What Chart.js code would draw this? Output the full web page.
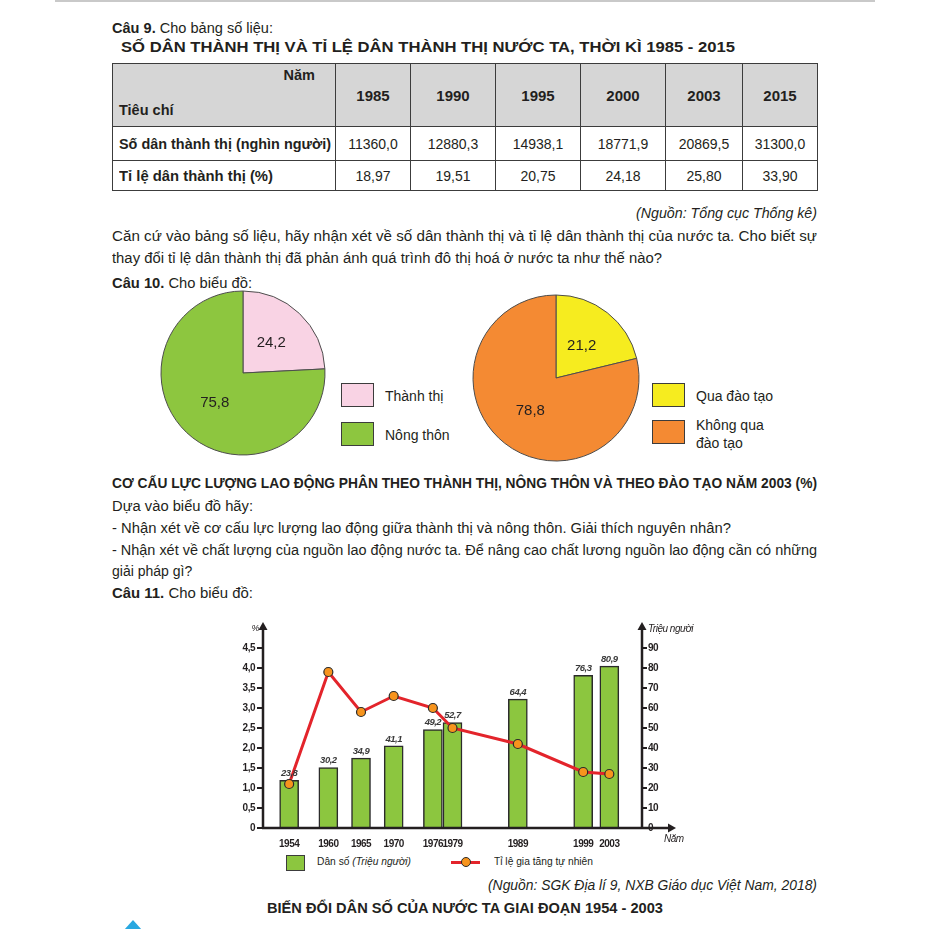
<!DOCTYPE html>
<html lang="vi">
<head>
<meta charset="utf-8">
<script src="https://cdn.jsdelivr.net/npm/chart.js@4.4.0/dist/chart.umd.min.js"></script>
<style>
body { margin: 0; background: #fff; }
#trang { position: relative; width: 929px; height: 929px; overflow: hidden; background: #fff;
  font-family: 'Liberation Sans', Arial, sans-serif; color: #231f20; }
.t { position: absolute; white-space: nowrap; font-size: 14px; line-height: 20px; transform-origin: left center; }
.b { font-weight: bold; }
.i { font-style: italic; }
#bang { position: absolute; left: 112px; top: 63px; width: 705px; border-collapse: collapse; table-layout: fixed; font-size: 14px; }
#bang td { border: 1.5px solid #3c3c3c; text-align: center; padding: 0; }
#bang tr.dau td { background: #d6d6d6; font-weight: bold; font-size: 15px; height: 62px; }
#bang tr.r1 td { height: 33px; }
#bang tr.r2 td { height: 29px; }
#bang td.nhan { text-align: left; padding-left: 6px; font-weight: bold; font-size: 14.5px; }
#bang td.cheo { position: relative;
  background: linear-gradient(to top right, #d6d6d6 calc(50% - 0.9px), #3c3c3c 50%, #d6d6d6 calc(50% + 0.9px)); }
#bang td.cheo span { position: absolute; font-size: 14.5px; }
.hop { position: absolute; border: 1px solid #3c3c3c; }
canvas { position: absolute; }
</style>
</head>
<body>
<div id="trang">
  <div style="position:absolute;left:55px;top:0;width:820px;height:2px;background:#c9c9c9"></div>

  <div class="t" style="left:112px;top:18px" data-w="161"><b>Câu 9.</b> Cho bảng số liệu:</div>
  <div class="t b" style="left:121px;top:37px" data-w="614">SỐ DÂN THÀNH THỊ VÀ TỈ LỆ DÂN THÀNH THỊ NƯỚC TA, THỜI KÌ 1985 - 2015</div>
  <table id="bang"></table>
  <div class="t i" style="left:636px;top:203px" data-w="181">(Nguồn: Tổng cục Thống kê)</div>
  <div class="t" style="left:112px;top:226px" data-w="705">Căn cứ vào bảng số liệu, hãy nhận xét về số dân thành thị và tỉ lệ dân thành thị của nước ta. Cho biết sự</div>
  <div class="t" style="left:112px;top:248px" data-w="550">thay đổi tỉ lệ dân thành thị đã phản ánh quá trình đô thị hoá ở nước ta như thế nào?</div>
  <div class="t" style="left:112px;top:273px" data-w="140"><b>Câu 10.</b> Cho biểu đồ:</div>

  <canvas id="tron1" width="180" height="180" style="left:153px;top:283px"></canvas>
  <canvas id="tron2" width="180" height="180" style="left:466px;top:288px"></canvas>
  <div id="chuGiai1"></div>
  <div id="chuGiai2"></div>

  <div class="t b" style="left:112px;top:473px" data-w="705">CƠ CẤU LỰC LƯỢNG LAO ĐỘNG PHÂN THEO THÀNH THỊ, NÔNG THÔN VÀ THEO ĐÀO TẠO NĂM 2003 (%)</div>
  <div class="t" style="left:112px;top:496px" data-w="141">Dựa vào biểu đồ hãy:</div>
  <div class="t" style="left:112px;top:518px" data-w="619">- Nhận xét về cơ cấu lực lượng lao động giữa thành thị và nông thôn. Giải thích nguyên nhân?</div>
  <div class="t" style="left:112px;top:540px" data-w="705">- Nhận xét về chất lượng của nguồn lao động nước ta. Để nâng cao chất lương nguồn lao động cần có những</div>
  <div class="t" style="left:112px;top:561px">giải pháp gì?</div>
  <div class="t" style="left:112px;top:583px" data-w="141"><b>Câu 11.</b> Cho biểu đồ:</div>

  <canvas id="ketHop" width="520" height="240" style="left:200px;top:610px"></canvas>

  <div class="hop" style="left:286px;top:855px;width:17px;height:14px;background:#8cc63f"></div>
  <div class="t" style="left:317px;top:852px;font-size:10px" data-w="94">Dân số <i>(Triệu người)</i></div>
  <div style="position:absolute;left:451px;top:861px;width:29px;height:3px;background:#e3242b"></div>
  <div style="position:absolute;left:461px;top:857px;width:8px;height:8px;border-radius:50%;background:#f7941d;border:1.2px solid #2b2b2b"></div>
  <div class="t" style="left:494px;top:852px;font-size:10px" data-w="99">Tỉ lệ gia tăng tự nhiên</div>

  <div class="t i" style="left:488px;top:875px" data-w="329">(Nguồn: SGK Địa lí 9, NXB Giáo dục Việt Nam, 2018)</div>
  <div class="t b" style="left:267px;top:898px" data-w="396">BIẾN ĐỔI DÂN SỐ CỦA NƯỚC TA GIAI ĐOẠN 1954 - 2003</div>

  <div style="position:absolute;left:124px;top:920px;width:0;height:0;border-left:9px solid transparent;border-right:9px solid transparent;border-bottom:10px solid #29a8e0"></div>
</div>

<script>
// Số liệu bảng (Câu 9)
const namBang = [1985, 1990, 1995, 2000, 2003, 2015];
const soDanThanhThi = [11360.0, 12880.3, 14938.1, 18771.9, 20869.5, 31300.0];
const tiLeDanThanhThi = [18.97, 19.51, 20.75, 24.18, 25.80, 33.90];

// Biểu đồ tròn (Câu 10)
const nhomThanhThi = ['Thành thị', 'Nông thôn'];
const coCauThanhThi = [24.2, 75.8];
const nhomDaoTao = ['Qua đào tạo', 'Không qua đào tạo'];
const coCauDaoTao = [21.2, 78.8];

// Biểu đồ kết hợp (Câu 11)
const namDanSo = [1954, 1960, 1965, 1970, 1976, 1979, 1989, 1999, 2003];
const danSo = [23.8, 30.2, 34.9, 41.1, 49.2, 52.7, 64.4, 76.3, 80.9];
const tiLeGiaTang = [1.1, 3.9, 2.9, 3.3, 3.0, 2.5, 2.1, 1.4, 1.35];
const mocTiLe = [0, 0.5, 1.0, 1.5, 2.0, 2.5, 3.0, 3.5, 4.0, 4.5];
const mocDanSo = [0, 10, 20, 30, 40, 50, 60, 70, 80, 90];

const mauChu = '#231f20';
const phongChu = "'Liberation Sans', Arial, sans-serif";
const phay = (v, d) => v.toFixed(d).replace('.', ',');

// Bảng số liệu
let html = '<colgroup><col style="width:223px"><col style="width:75px"><col style="width:85px"><col style="width:85px"><col style="width:85px"><col style="width:77px"><col style="width:75px"></colgroup>';
html += '<tr class="dau"><td class="cheo"><span style="right:20px;top:3px">Năm</span><span style="left:6px;bottom:8px">Tiêu chí</span></td>';
namBang.forEach(n => { html += '<td>' + n + '</td>'; });
html += '</tr><tr class="r1"><td class="nhan"><span style="display:inline-block;transform-origin:left center" data-w="212">Số dân thành thị (nghìn người)</span></td>';
soDanThanhThi.forEach(v => { html += '<td>' + phay(v, 1) + '</td>'; });
html += '</tr><tr class="r2"><td class="nhan"><span style="display:inline-block;transform-origin:left center" data-w="154">Tỉ lệ dân thành thị (%)</span></td>';
tiLeDanThanhThi.forEach(v => { html += '<td>' + phay(v, 2) + '</td>'; });
html += '</tr>';
document.getElementById('bang').innerHTML = html;

// Co giãn chữ cho khớp độ rộng
document.querySelectorAll('[data-w]').forEach(el => {
    const w = el.getBoundingClientRect().width;
    if (w > 0) el.style.transform = 'scaleX(' + (Number(el.dataset.w) / w) + ')';
});

// Nhãn số trên biểu đồ tròn
const nhanTron = {
    id: 'nhanTron',
    afterDatasetsDraw(chart) {
        const ctx = chart.ctx;
        const ds = chart.data.datasets[0];
        ctx.save();
        ctx.font = '15px ' + phongChu;
        ctx.fillStyle = mauChu;
        ctx.textAlign = 'center';
        ctx.textBaseline = 'middle';
        chart.getDatasetMeta(0).data.forEach((arc, i) => {
            const p = arc.tooltipPosition();
            ctx.fillText(phay(ds.data[i], 1), p.x, p.y);
        });
        ctx.restore();
    }
};

function veBieuDoTron(id, nhan, giaTri, mau, banKinh) {
    return new Chart(document.getElementById(id), {
        type: 'pie',
        data: {
            labels: nhan,
            datasets: [{
                data: giaTri,
                backgroundColor: mau,
                borderColor: '#4d4d4d',
                borderWidth: 1
            }]
        },
        options: {
            responsive: false,
            animation: false,
            radius: banKinh,
            plugins: {
                legend: { display: false },
                tooltip: { enabled: false }
            }
        },
        plugins: [nhanTron]
    });
}

const mauThanhThi = ['#f9d3e4', '#8dc63f'];
const mauDaoTao = ['#f6ec1f', '#f48a33'];
veBieuDoTron('tron1', nhomThanhThi, coCauThanhThi, mauThanhThi, 82);
veBieuDoTron('tron2', nhomDaoTao, coCauDaoTao, mauDaoTao, 83);

// Chú giải biểu đồ tròn (nhãn dài xuống 2 dòng)
function chuGiai(id, nhan, mau, trai, dinh) {
    const khung = document.getElementById(id);
    nhan.forEach((n, i) => {
        const hop = document.createElement('div');
        hop.className = 'hop';
        hop.style.cssText = `left:${trai}px;top:${dinh[i]}px;width:31px;height:22px;background:${mau[i]}`;
        khung.appendChild(hop);
        const tu = n.split(' ');
        const haiDong = tu.length > 3;
        const chu = document.createElement('div');
        chu.className = 't';
        chu.style.cssText = `left:${trai + 44}px;top:${dinh[i] + (haiDong ? -4 : 4)}px;line-height:18px`;
        if (haiDong) {
            chu.appendChild(document.createTextNode(tu.slice(0, 2).join(' ')));
            chu.appendChild(document.createElement('br'));
            chu.appendChild(document.createTextNode(tu.slice(2).join(' ')));
        } else {
            chu.textContent = n;
        }
        khung.appendChild(chu);
    });
}
chuGiai('chuGiai1', nhomThanhThi, mauThanhThi, 341, [383, 422]);
chuGiai('chuGiai2', nhomDaoTao, mauDaoTao, 652, [383, 420]);

// Trục, mũi tên, tên trục và nhãn cột
const trucPlugin = {
    id: 'truc',
    beforeDraw(chart) {
        chart.ctx.letterSpacing = '-0.5px';
    },
    afterDatasetsDraw(chart) {
        const { ctx, chartArea: a } = chart;
        ctx.save();
        ctx.strokeStyle = mauChu;
        ctx.fillStyle = mauChu;
        ctx.lineWidth = 2.5;
        ctx.beginPath();
        ctx.moveTo(a.left, a.bottom); ctx.lineTo(a.left, a.top);
        ctx.moveTo(a.right, a.bottom); ctx.lineTo(a.right, a.top);
        ctx.moveTo(a.left - 1, a.bottom); ctx.lineTo(a.right + 28, a.bottom);
        ctx.stroke();
        const muiTen = (x, y, dx, dy) => {
            ctx.beginPath();
            ctx.moveTo(x + dx * 8, y + dy * 8);
            ctx.lineTo(x - dy * 4.5, y + dx * 4.5);
            ctx.lineTo(x + dy * 4.5, y - dx * 4.5);
            ctx.closePath();
            ctx.fill();
        };
        muiTen(a.left, a.top + 2, 0, -1);
        muiTen(a.right, a.top + 2, 0, -1);
        muiTen(a.right + 26, a.bottom, 1, 0);

        ctx.font = 'italic 9px ' + phongChu;
        ctx.textBaseline = 'middle';
        ctx.textAlign = 'right';
        ctx.fillText('%', a.left - 4, a.top);
        ctx.textAlign = 'left';
        ctx.font = 'italic 10px ' + phongChu;
        ctx.fillText('Triệu người', a.right + 6, a.top + 1);
        ctx.fillText('Năm', a.right + 22, a.bottom + 11);

        ctx.font = 'italic bold 9.5px ' + phongChu;
        ctx.fillStyle = '#3a3a3a';
        ctx.textAlign = 'center';
        ctx.textBaseline = 'bottom';
        chart.getDatasetMeta(0).data.forEach((bar, i) => {
            ctx.fillText(phay(danSo[i], 1), bar.x, bar.y - 2);
        });
        ctx.restore();
    }
};

const fontTruc = { family: phongChu, size: 10, weight: 'bold' };

new Chart(document.getElementById('ketHop'), {
    type: 'bar',
    data: {
        datasets: [{
            type: 'bar',
            label: 'Dân số (Triệu người)',
            data: namDanSo.map((x, i) => ({ x: x, y: danSo[i] })),
            yAxisID: 'y1',
            backgroundColor: '#8cc63f',
            borderColor: '#2b2b2b',
            borderWidth: 1.5,
            barThickness: 19,
            order: 2
        }, {
            type: 'line',
            label: 'Tỉ lệ gia tăng tự nhiên',
            data: namDanSo.map((x, i) => ({ x: x, y: tiLeGiaTang[i] })),
            yAxisID: 'y',
            borderColor: '#e3242b',
            borderWidth: 3,
            pointRadius: 4.5,
            pointBackgroundColor: '#f7941d',
            pointBorderColor: '#2b2b2b',
            pointBorderWidth: 1.2,
            tension: 0,
            order: 1
        }]
    },
    options: {
        responsive: false,
        animation: false,
        layout: { padding: { top: 18, left: 0, right: 0, bottom: 0 } },
        plugins: {
            legend: { display: false },
            tooltip: { enabled: false }
        },
        scales: {
            x: {
                type: 'linear',
                min: 1950,
                max: 2008,
                offset: false,
                grid: { display: false },
                border: { display: false },
                afterBuildTicks: s => { s.ticks = namDanSo.map(v => ({ value: v })); },
                afterFit: s => { s.height = 22; },
                ticks: { autoSkip: false, maxRotation: 0, padding: 2, color: mauChu, font: fontTruc, callback: v => String(v) }
            },
            y: {
                position: 'left',
                min: 0,
                max: 5,
                grid: { drawOnChartArea: false, drawTicks: true, tickLength: 6, color: mauChu, lineWidth: 2 },
                border: { display: false },
                afterBuildTicks: s => { s.ticks = mocTiLe.map(v => ({ value: v })); },
                afterFit: s => { s.width = 63; },
                ticks: { padding: 2, color: mauChu, font: fontTruc, callback: v => v === 0 ? '0' : phay(v, 1) }
            },
            y1: {
                position: 'right',
                min: 0,
                max: 100,
                grid: { drawOnChartArea: false, drawTicks: true, tickLength: 5, color: mauChu, lineWidth: 2 },
                border: { display: false },
                afterBuildTicks: s => { s.ticks = mocDanSo.map(v => ({ value: v })); },
                afterFit: s => { s.width = 78; },
                ticks: { padding: 1, color: mauChu, font: fontTruc, callback: v => String(v) }
            }
        }
    },
    plugins: [trucPlugin]
});
</script>
</body>
</html>
